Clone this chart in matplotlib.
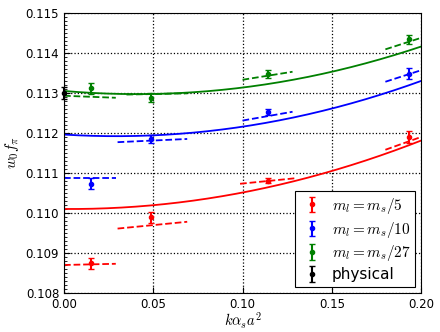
import numpy as np
import matplotlib
matplotlib.use('Agg')
import matplotlib.pyplot as plt
from matplotlib.ticker import MultipleLocator

plt.rcParams['mathtext.fontset'] = 'cm'

# lattice spacings (k alpha_s a^2)
x_pts = [0.0150, 0.0490, 0.1145, 0.1935]

# w0 f_pi data for the three mass ratios
y_red = [0.10874, 0.10989, 0.11081, 0.11190]
e_red = [0.00014, 0.00013, 0.00006, 0.00015]
y_blue = [0.11073, 0.11184, 0.11252, 0.11348]
e_blue = [0.00014, 0.00010, 0.00008, 0.00014]
y_green = [0.11312, 0.11288, 0.11348, 0.11434]
e_green = [0.00014, 0.00011, 0.00010, 0.00012]

# physical point
x_phys = [0.0]
y_phys = [0.11300]
e_phys = [0.00014]

# quadratic fit coefficients c + b*x + a*x^2
fit_red = [0.11010, -0.00033, 0.0444]
fit_blue = [0.11196, -0.00276, 0.0473]
fit_green = [0.11305, -0.00385, 0.0470]

# dashed local segments: x0, x1, y0, y1
seg_red = [(0.0, 0.029, 0.10870, 0.10873), (0.030, 0.069, 0.10961, 0.10978),
           (0.0986, 0.130, 0.11073, 0.11087), (0.180, 0.205, 0.11158, 0.11198)]
seg_blue = [(0.0, 0.029, 0.11087, 0.11087), (0.030, 0.069, 0.11177, 0.11185),
            (0.100, 0.128, 0.11231, 0.11253), (0.180, 0.205, 0.11328, 0.11364)]
seg_green = [(0.0, 0.029, 0.11293, 0.11288), (0.035, 0.069, 0.11296, 0.11299),
             (0.100, 0.128, 0.11333, 0.11353), (0.180, 0.205, 0.11409, 0.11445)]

labels = [r'$m_l=m_s/5$', r'$m_l=m_s/10$', r'$m_l=m_s/27$', 'physical']

fig = plt.figure(figsize=(4.4, 3.32), dpi=100)
ax = fig.add_axes([0.1455, 0.1175, 0.8115, 0.8435])

xx = np.linspace(0, 0.2, 200)
series = [(y_red, e_red, fit_red, seg_red, 'r'),
          (y_blue, e_blue, fit_blue, seg_blue, 'b'),
          (y_green, e_green, fit_green, seg_green, 'g')]

for i, (yv, ev, fit, segs, col) in enumerate(series):
    c, b, a = fit
    ax.plot(xx, c + b*xx + a*xx**2, '-', color=col, lw=1.3)
    for x0, x1, y0, y1 in segs:
        ax.plot([x0, x1], [y0, y1], '--', color=col, lw=1.3)
    ax.errorbar(x_pts, yv, yerr=ev, fmt='o', color=col, ms=3, capsize=2,
                mec=col, label=labels[i])

ax.errorbar(x_phys, y_phys, yerr=e_phys, fmt='o', color='k', ms=3, capsize=2,
            label=labels[3], clip_on=False)

ax.set_xlim(0, 0.2)
ax.set_ylim(0.108, 0.115)
ax.xaxis.set_major_locator(MultipleLocator(0.05))
ax.yaxis.set_major_locator(MultipleLocator(0.001))
ax.yaxis.set_minor_locator(MultipleLocator(0.0001))
ax.set_xticklabels(['%.2f' % v for v in ax.get_xticks()])
ax.set_yticklabels(['%.3f' % v for v in ax.get_yticks()])
ax.tick_params(which='both', direction='in', labelsize=8.5)
ax.tick_params(which='major', length=4)
ax.tick_params(which='minor', length=2)
ax.tick_params(axis='x', which='minor', bottom=False)
ax.tick_params(axis='x', pad=3.5)
ax.grid(True, color='k', linestyle=':', lw=0.9)

ax.set_xlabel(r'$k\alpha_s a^2$', fontsize=10.5, labelpad=0)
ax.set_ylabel(r'$w_0 f_\pi$', fontsize=11, labelpad=3)

leg = ax.legend(loc='lower right', fontsize=11, fancybox=False, framealpha=1,
                edgecolor='k', borderaxespad=0.4, handletextpad=0.5,
                labelspacing=0.25, borderpad=0.3, handlelength=1.6)
leg.get_frame().set_linewidth(0.8)

fig.savefig('out.png', dpi=100)
